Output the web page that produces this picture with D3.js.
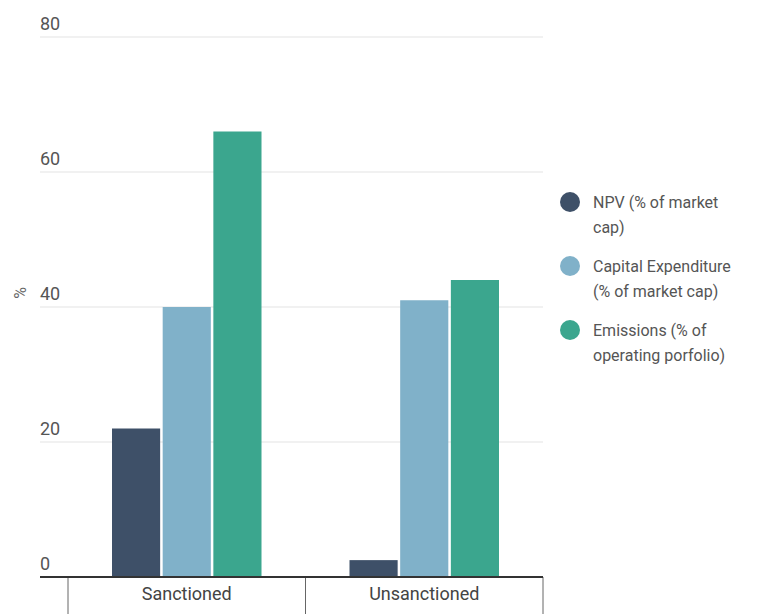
<!DOCTYPE html>
<html>
<head>
<meta charset="utf-8">
<script src="https://cdn.jsdelivr.net/npm/d3@7"></script>
<style>
  body { margin: 0; background: #fff; }
  svg { font-family: Roboto, "Noto Sans", sans-serif; }
</style>
</head>
<body>
<div id="main"></div>
<script>
// data
const categories = ["Sanctioned", "Unsanctioned"];
const seriesNames = ["NPV", "CapEx", "Emissions"];
const legendLines = [
  ["NPV (% of market", "cap)"],
  ["Capital Expenditure", "(% of market cap)"],
  ["Emissions (% of", "operating porfolio)"]
];
const npv = [22, 2.5];
const capex = [40, 41];
const emissions = [66, 44];
const yTicks = [0, 20, 40, 60, 80];

const colors = ["#3e5068", "#80b1c9", "#3ba68e"];

const width = 768, height = 614;
const margin = { top: 37, right: 225, bottom: 37, left: 68 };
const innerWidth = width - margin.left - margin.right;
const innerHeight = height - margin.top - margin.bottom;

const rows = categories.map((c, i) => ({
  cat: c,
  values: [npv[i], capex[i], emissions[i]]
}));

const svg = d3.select("#main").append("svg")
  .attr("width", width)
  .attr("height", height);

const g = svg.append("g")
  .attr("transform", `translate(${margin.left}, ${margin.top})`);

const x0 = d3.scaleBand()
  .domain(categories)
  .range([0, innerWidth])
  .paddingInner(0)
  .paddingOuter(0);

const x1 = d3.scaleBand()
  .domain(seriesNames)
  .range([44, x0.bandwidth() - 44])
  .paddingInner(0.05);

const y = d3.scaleLinear()
  .domain([0, 80])
  .range([innerHeight, 0]);

// gridlines + labels
const grid = g.append("g");
grid.selectAll("line")
  .data(yTicks.filter(d => d !== 0))
  .enter().append("line")
  .attr("x1", -28).attr("x2", innerWidth)
  .attr("y1", d => y(d)).attr("y2", d => y(d))
  .attr("stroke", "#e3e3e3")
  .attr("stroke-width", 1);

grid.selectAll("text")
  .data(yTicks)
  .enter().append("text")
  .attr("x", -28)
  .attr("y", d => y(d) - 7)
  .attr("fill", "#555")
  .attr("font-size", 18)
  .text(d => d);

// y title
svg.append("text")
  .attr("transform", "translate(26, 293) rotate(-90)")
  .attr("text-anchor", "middle")
  .attr("fill", "#666")
  .attr("font-size", 16)
  .text("%");

// bars
const groups = g.selectAll(".group")
  .data(rows)
  .enter().append("g")
  .attr("class", "group")
  .attr("transform", d => `translate(${x0(d.cat)}, 0)`);

groups.selectAll("rect")
  .data(d => d.values.map((v, i) => ({ key: seriesNames[i], v: v, i: i })))
  .enter().append("rect")
  .attr("x", d => x1(d.key))
  .attr("width", x1.bandwidth())
  .attr("y", d => y(d.v))
  .attr("height", d => y(0) - y(d.v))
  .attr("fill", d => colors[d.i]);

// x axis
const xAxis = d3.axisBottom(x0).tickSize(0).tickPadding(10);
const xg = g.append("g")
  .attr("transform", `translate(0, ${innerHeight})`)
  .call(xAxis);
xg.select(".domain").remove();
xg.selectAll(".tick text")
  .attr("font-size", 18)
  .attr("fill", "#444")
  .attr("font-family", "Roboto, sans-serif");

// separators between categories
const seps = [0, ...categories.map(c => x0(c) + x0.bandwidth())];
g.append("g").selectAll("line")
  .data(seps)
  .enter().append("line")
  .attr("x1", d => d).attr("x2", d => d)
  .attr("y1", innerHeight).attr("y2", innerHeight + 40)
  .attr("stroke", "#666")
  .attr("stroke-width", 1);

g.append("line")
  .attr("x1", -28).attr("x2", innerWidth)
  .attr("y1", y(0)).attr("y2", y(0))
  .attr("stroke", "#333")
  .attr("stroke-width", 2);

// legend
const legend = svg.append("g")
  .attr("transform", "translate(570, 202)");
const items = legend.selectAll("g")
  .data(legendLines)
  .enter().append("g")
  .attr("transform", (d, i) => `translate(0, ${[0, 64, 128][i]})`);
items.append("circle")
  .attr("r", 10)
  .attr("fill", (d, i) => colors[i]);
items.append("text")
  .attr("x", 23)
  .attr("y", 6)
  .attr("fill", "#555")
  .attr("font-size", 16)
  .selectAll("tspan")
  .data(d => d)
  .enter().append("tspan")
  .attr("x", 23)
  .attr("dy", (d, i) => i === 0 ? 0 : 25)
  .text(d => d);
</script>
</body>
</html>
